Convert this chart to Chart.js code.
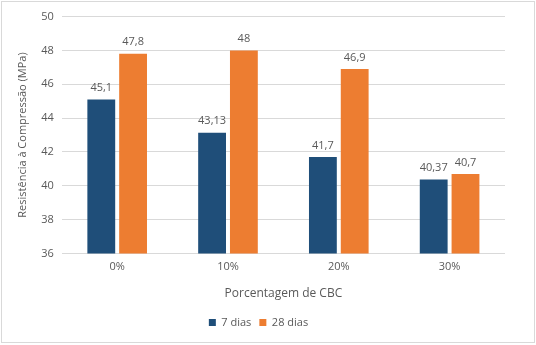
<!DOCTYPE html>
<html>
<head>
<meta charset="utf-8">
<script src="https://cdn.jsdelivr.net/npm/chart.js@4"></script>
<style>
  html, body { margin: 0; padding: 0; background: #fff; }
  #box {
    position: absolute; left: 1px; top: 1px;
    width: 532px; height: 340px;
    border: 1px solid #d9d9d9;
  }
</style>
</head>
<body>
<div id="box"><canvas id="chart"></canvas></div>
<script>
// Resistência à compressão por porcentagem de CBC
const categories = ['0%', '10%', '20%', '30%'];
const dias7 = [45.1, 43.13, 41.7, 40.37];
const dias28 = [47.8, 48, 46.9, 40.7];
const yTicks = [36, 38, 40, 42, 44, 46, 48, 50];

const textColor = '#595959';
const fontFamily = "'Open Sans', 'Noto Sans', sans-serif";

// value labels above each bar, decimal comma
const barLabels = {
    id: 'barLabels',
    afterDatasetsDraw(chart) {
        const ctx = chart.ctx;
        ctx.save();
        ctx.fillStyle = textColor;
        ctx.font = '11px ' + fontFamily;
        ctx.textAlign = 'center';
        ctx.textBaseline = 'bottom';
        chart.data.datasets.forEach((ds, i) => {
            chart.getDatasetMeta(i).data.forEach((bar, j) => {
                const txt = String(ds.data[j]).replace('.', ',');
                ctx.fillText(txt, bar.x, bar.y - 6);
            });
        });
        ctx.restore();
    }
};

const ctx = document.getElementById('chart').getContext('2d');
new Chart(ctx, {
    type: 'bar',
    data: {
        labels: categories,
        datasets: [{
            label: '7 dias',
            data: dias7,
            backgroundColor: '#1f4e79',
            categoryPercentage: 0.574,
            barPercentage: 0.875
        }, {
            label: '28 dias',
            data: dias28,
            backgroundColor: '#ed7d31',
            categoryPercentage: 0.574,
            barPercentage: 0.875
        }]
    },
    options: {
        responsive: true,
        maintainAspectRatio: false,
        animation: false,
        layout: { padding: { left: 10, right: 29, top: 13, bottom: 4 } },
        scales: {
            x: {
                grid: { display: false, drawTicks: false },
                border: { display: false },
                ticks: { color: textColor, font: { family: fontFamily, size: 11 }, padding: 7 },
                title: {
                    display: true, text: 'Porcentagem de CBC', color: textColor,
                    font: { family: fontFamily, size: 12 }, padding: { top: 6, bottom: 8 }
                }
            },
            y: {
                min: 36, max: 50,
                afterBuildTicks(axis) { axis.ticks = yTicks.map(v => ({ value: v })); },
                grid: { color: '#d9d9d9', drawTicks: false },
                border: { display: false },
                ticks: { color: textColor, font: { family: fontFamily, size: 11 }, padding: 8 },
                title: {
                    display: true, text: 'Resistência à Compressão (MPa)', color: textColor,
                    font: { family: fontFamily, size: 11 }, padding: { bottom: 4 }
                }
            }
        },
        plugins: {
            legend: {
                position: 'bottom',
                labels: {
                    color: textColor, font: { family: fontFamily, size: 11 },
                    boxWidth: 7, boxHeight: 7, padding: 8
                }
            },
            tooltip: { enabled: false }
        }
    },
    plugins: [barLabels]
});
</script>
</body>
</html>
